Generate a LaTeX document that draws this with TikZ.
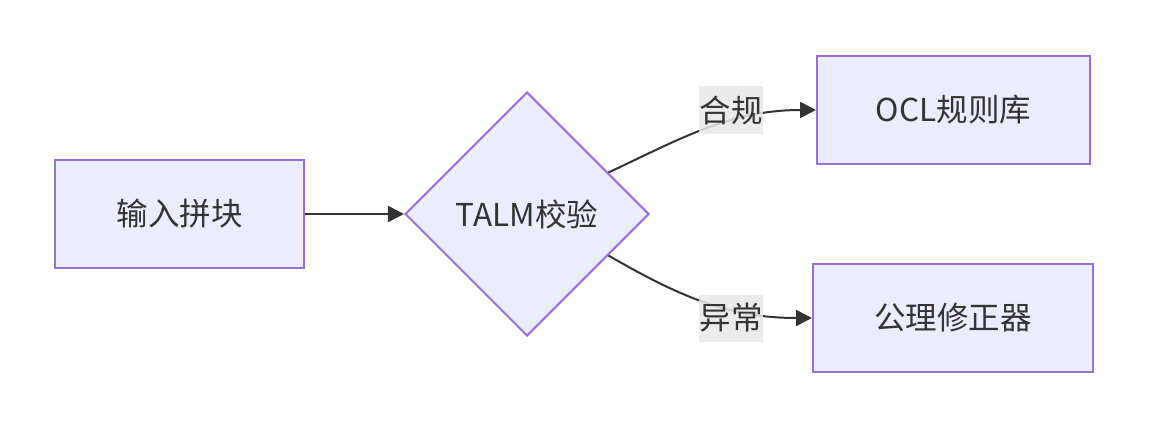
\documentclass[tikz,border=0pt]{standalone}
\usepackage{fontspec}
\setmainfont{Noto Sans CJK SC}
\usetikzlibrary{shapes.geometric,arrows.meta}
\definecolor{boxfill}{HTML}{ECECFF}
\definecolor{boxline}{HTML}{9370DB}
\definecolor{inkgray}{HTML}{333333}
\definecolor{tagfill}{HTML}{E8E8E8}
\tikzset{
stagebox/.style={draw=boxline, fill=boxfill, line width=2pt, inner sep=0pt, minimum height=108pt, text=inkgray, font=\fontsize{31.5}{36}\selectfont},
checkbox/.style={diamond, aspect=1, draw=boxline, fill=boxfill, line width=2pt, inner sep=0pt, minimum width=244pt, minimum height=244pt, text=inkgray, font=\fontsize{31.5}{36}\selectfont},
flow/.style={draw=inkgray, line width=2pt, -{Triangle[length=16pt,width=16pt]}},
tag/.style={fill=tagfill, fill opacity=0.85, text opacity=1, text=inkgray, inner sep=0pt, minimum width=64pt, minimum height=47pt, font=\fontsize{31.5}{36}\selectfont}
}
\newcommand{\stage}[5]{%
\node[stagebox, minimum width=#4] (#1) at (#2,#3) {#5};
}

\begin{document}
\begin{tikzpicture}[x=1pt, y=-1pt]

\useasboundingbox (0,0) rectangle (1149,428);

\stage{input}{179.5}{214}{249pt}{输入拼块}
\stage{ocl}{953.5}{110}{273pt}{OCL规则库}
\stage{axiom}{953}{318}{280pt}{公理修正器}

\node[checkbox] (talm) at (527,214) {TALM校验};

\draw[flow] (input) -- (talm);
\draw[flow] (talm.27) .. controls (680,139) and (730,110) .. (ocl.west);
\draw[flow] (talm.-27) .. controls (680,297) and (730,318) .. (axiom.west);

\node[tag] (ok) at (731,110) {合规};
\node[tag] (err) at (731,318) {异常};

\end{tikzpicture}
\end{document}
